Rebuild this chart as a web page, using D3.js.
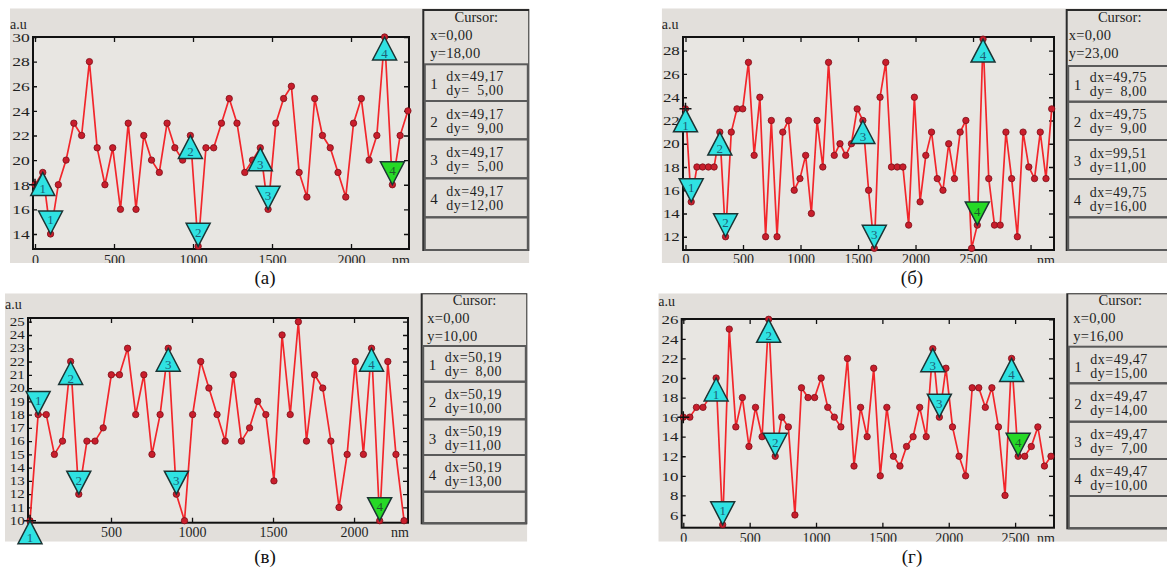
<!DOCTYPE html>
<html>
<head>
<meta charset="utf-8">
<script src="https://cdn.jsdelivr.net/npm/d3@7"></script>
<style>
  html, body { margin: 0; padding: 0; background: #ffffff; }
  svg { display: block; font-family: "Liberation Serif", "Times New Roman", serif; }
  text { white-space: pre; }
</style>
</head>
<body>
<svg id="chart" width="1167" height="567"></svg>
<script>
// ---- Profile samples (a.u), one value per sampling step (nm) ----
const stepA = 49.17;
const valuesA = [18,19,14,18,20,23,22,28,21,18,21,16,23,16,22,20,19,23,21,20,22,13,21,21,23,25,23,19,20,21,16,23,25,26,19,17,25,22,21,19,17,23,25,20,22,30,18,22,24];

const stepB = 49.75;
const valuesB = [23,15,18,18,18,18,21,12,21,23,23,27,19,24,12,22,12,21,22,16,17,19,14,22,18,27,19,20,19,20,23,22,16,11,24,27,18,18,18,13,24,15,19,21,17,16,20,17,21,22,11,13,29,17,13,13,21,17,12,21,18,17,21,17,23];

const stepC = 50.19;
const valuesC = [10,18,18,15,16,22,12,16,16,17,21,21,23,18,21,15,18,23,12,10,18,22,20,18,16,21,16,17,19,18,13,24,18,25,16,21,20,16,11,15,22,15,23,10,22,15,10];

const stepD = 49.47;
const valuesD = [16,16,17,17,18,20,5,25,15,18,13,17,14,26,12,16,15,6,19,18,18,20,17,16,15,22,11,17,14,21,10,17,12,11,13,14,17,14,23,16,21,15,12,10,19,19,17,19,15,8,22,12,12,13,15,11,12];

// ---- Cursor pairs: [cursor number, index of upper marker, index of lower marker] ----
const cursorsA = [[1,1,2],[2,20,21],[3,29,30],[4,45,46]];
const cursorsB = [[1,0,1],[2,6,7],[3,31,33],[4,52,51]];
const cursorsC = [[1,0,1],[2,5,6],[3,17,18],[4,42,43]];
const cursorsD = [[1,5,6],[2,13,14],[3,38,39],[4,50,51]];

// Cursor readout dx values (nm)
const dxA = [49.17,49.17,49.17,49.17];
const dxB = [49.75,49.75,99.51,49.75];
const dxC = [50.19,50.19,50.19,50.19];
const dxD = [49.47,49.47,49.47,49.47];

// Main cursor position [x, y]
const cursorPosA = [0,18];
const cursorPosB = [0,23];
const cursorPosC = [0,10];
const cursorPosD = [0,16];

// Axis tick values
const yTicksA = [14,16,18,20,22,24,26,28,30];
const yTicksB = [12,14,16,18,20,22,24,26,28];
const yTicksC = [10,11,12,13,14,15,16,17,18,19,20,21,22,23,24,25];
const yTicksD = [6,8,10,12,14,16,18,20,22,24,26];
const xTicksA = [0,500,1000,1500,2000];
const xTicksB = [0,500,1000,1500,2000,2500,3000];
const xTicksC = [0,500,1000,1500,2000];
const xTicksD = [0,500,1000,1500,2000,2500];
// x tick labels that are printed (others are ticks only)
const xLabelsA = [0,500,1000,1500,2000];
const xLabelsB = [0,500,1000,1500,2000,2500];
const xLabelsC = [500,1000,1500,2000];
const xLabelsD = [0,500,1000,1500,2000,2500];

const captions = ["(а)", "(б)", "(в)", "(г)"];

// ---- Layout for each panel ----
const layouts = [
  { key: "A", values: valuesA, step: stepA, cursors: cursorsA, dx: dxA, pos: cursorPosA, yTicks: yTicksA, xTicks: xTicksA, xLabels: xLabelsA,
    bg: {x: 10, y: 8.3, w: 519.3, h: 254.7},
    plot: {l: 33, t: 37, r: 409, b: 249},
    xDomain: [-12.7, 2367], yDomain: [12.78, 30],
    yFont: 13.5, xPad: 6, au: [10, 29],
    legend: {x: 423.3, y: 10, w: 106, h: 240, tx: 7, boxes: [64.3, 101, 139.3, 178.3, 217.3]},
    caption: [265, 284] },
  { key: "B", values: valuesB, step: stepB, cursors: cursorsB, dx: dxB, pos: cursorPosB, yTicks: yTicksB, xTicks: xTicksB, xLabels: xLabelsB,
    bg: {x: 661.7, y: 8.3, w: 510, h: 254.7},
    plot: {l: 683, t: 37, r: 1054, b: 250},
    xDomain: [-21.7, 3204], yDomain: [10.86, 29.18],
    yFont: 13, xPad: 4.5, au: [661.7, 29],
    legend: {x: 1066.7, y: 10, w: 106, h: 240, tx: 2, boxes: [66, 101.7, 140, 179, 217.3]},
    caption: [912, 284] },
  { key: "C", values: valuesC, step: stepC, cursors: cursorsC, dx: dxC, pos: cursorPosC, yTicks: yTicksC, xTicks: xTicksC, xLabels: xLabelsC,
    bg: {x: 5, y: 293.3, w: 522.3, h: 248.4},
    plot: {l: 28, t: 318, r: 408, b: 522.7},
    xDomain: [-12.3, 2333], yDomain: [9.85, 25.28],
    yFont: 11.5, xPad: 4, au: [5, 309],
    legend: {x: 421.7, y: 293.3, w: 105.6, h: 230, tx: 5.6, boxes: [346, 381.7, 419.3, 455, 491.7]},
    caption: [265, 563] },
  { key: "D", values: valuesD, step: stepD, cursors: cursorsD, dx: dxD, pos: cursorPosD, yTicks: yTicksD, xTicks: xTicksD, xLabels: xLabelsD,
    bg: {x: 658.3, y: 293.3, w: 510, h: 248.4},
    plot: {l: 681.7, t: 319, r: 1054, b: 527.7},
    xDomain: [-12, 2793], yDomain: [4.70, 26.03],
    yFont: 13, xPad: 5, au: [658.3, 306],
    legend: {x: 1067.3, y: 293.3, w: 106, h: 235, tx: 6, boxes: [346.7, 383.3, 421.7, 459, 496]},
    caption: [912, 563] }
];

const svg = d3.select("#chart");
const defs = svg.append("defs");
const num2 = v => d3.format(".2f")(v).replace(".", ",");
const padNum = v => (Math.abs(v) < 10 ? "\u2007" : "") + num2(v);

const COL = {
  panel: "#e2dfdb", plot: "#e8e6e2", frame: "#111111",
  line: "#f2262b", dotFill: "#c81e2c", dotStroke: "#7c0f18",
  tri: "#2fe2e2", triGreen: "#26d926", triStroke: "#1b3434", triText: "#1c5f77",
  text: "#1f1f1f", legendBorder: "#5a5a5a"
};

layouts.forEach((cfg, pi) => {
  const g = svg.append("g");
  const clipId = "clip" + cfg.key;
  defs.append("clipPath").attr("id", clipId)
    .append("rect").attr("x", cfg.bg.x).attr("y", cfg.bg.y).attr("width", cfg.bg.w).attr("height", cfg.bg.h);
  const pg = g.append("g").attr("clip-path", `url(#${clipId})`);

  // panel background
  pg.append("rect").attr("x", cfg.bg.x).attr("y", cfg.bg.y).attr("width", cfg.bg.w).attr("height", cfg.bg.h)
    .attr("fill", COL.panel);

  const P = cfg.plot;
  const x = d3.scaleLinear().domain(cfg.xDomain).range([P.l, P.r]);
  const y = d3.scaleLinear().domain(cfg.yDomain).range([P.b, P.t]);

  // plot area
  pg.append("rect").attr("x", P.l).attr("y", P.t).attr("width", P.r - P.l).attr("height", P.b - P.t)
    .attr("fill", COL.plot);

  // axes (ticks point inwards)
  const axB = pg.append("g").attr("transform", `translate(0,${P.b})`)
    .call(d3.axisBottom(x).tickValues(cfg.xTicks).tickSizeInner(-5).tickSizeOuter(0).tickPadding(cfg.xPad)
      .tickFormat(d => cfg.xLabels.includes(d) ? String(d) : ""));
  const axT = pg.append("g").attr("transform", `translate(0,${P.t})`)
    .call(d3.axisTop(x).tickValues(cfg.xTicks).tickSizeInner(-5).tickSizeOuter(0).tickFormat(""));
  const axL = pg.append("g").attr("transform", `translate(${P.l},0)`)
    .call(d3.axisLeft(y).tickValues(cfg.yTicks).tickSizeInner(-4).tickSizeOuter(0).tickPadding(2.5));
  const axR = pg.append("g").attr("transform", `translate(${P.r},0)`)
    .call(d3.axisRight(y).tickValues(cfg.yTicks).tickSizeInner(-5).tickSizeOuter(0).tickFormat(""));
  [axB, axT, axL, axR].forEach(a => {
    a.attr("font-family", null).attr("font-size", null);
    a.select(".domain").remove();
    a.selectAll(".tick line").attr("stroke", COL.frame).attr("stroke-width", 1.3);
  });
  axB.selectAll("text").attr("font-size", 14).attr("fill", COL.text);
  axL.selectAll("text").attr("font-size", cfg.yFont).attr("fill", COL.text)
    .attr("transform", "scale(1.3,1)");

  // frame
  pg.append("rect").attr("x", P.l).attr("y", P.t).attr("width", P.r - P.l).attr("height", P.b - P.t)
    .attr("fill", "none").attr("stroke", COL.frame).attr("stroke-width", 2);

  // unit labels
  pg.append("text").attr("x", cfg.au[0]).attr("y", cfg.au[1]).attr("font-size", 14).attr("fill", COL.text).text("a.u");
  pg.append("text").attr("x", P.r + 1).attr("y", P.b + cfg.xPad + 10).attr("text-anchor", "end")
    .attr("font-size", 14).attr("fill", COL.text).text("nm");

  // profile line and sample markers
  const pts = cfg.values.map((v, i) => ({xv: i * cfg.step, yv: v}));
  pg.append("path").datum(pts)
    .attr("d", d3.line().x(d => x(d.xv)).y(d => y(d.yv)))
    .attr("fill", "none").attr("stroke", COL.line).attr("stroke-width", 1.7).attr("stroke-linejoin", "round");
  pg.selectAll("circle.dot").data(pts).join("circle").attr("class", "dot")
    .attr("cx", d => x(d.xv)).attr("cy", d => y(d.yv)).attr("r", 3.2)
    .attr("fill", COL.dotFill).attr("stroke", COL.dotStroke).attr("stroke-width", 0.8);

  // main cursor cross
  const cx0 = x(cfg.pos[0]), cy0 = y(cfg.pos[1]);
  pg.append("path").attr("d", `M${cx0 - 6},${cy0}H${cx0 + 6}M${cx0},${cy0 - 6}V${cy0 + 6}`)
    .attr("stroke", "#111").attr("stroke-width", 1.5);

  // cursor markers: upward triangle hangs below its sample, downward one sits above
  const TW = 12, TH = 23;
  cfg.cursors.forEach(([n, iu, idn]) => {
    const ux = x(iu * cfg.step), uy = y(cfg.values[iu]);
    const dxp = x(idn * cfg.step), dyp = y(cfg.values[idn]);
    g.append("path").attr("d", `M${ux},${uy}L${ux + TW},${uy + TH}L${ux - TW},${uy + TH}Z`)
      .attr("fill", COL.tri).attr("stroke", COL.triStroke).attr("stroke-width", 1.5).attr("stroke-linejoin", "miter");
    g.append("text").attr("x", ux).attr("y", uy + 21).attr("text-anchor", "middle")
      .attr("font-size", 13).attr("fill", COL.triText).text(n);
    const green = n === 4;
    g.append("path").attr("d", `M${dxp},${dyp}L${dxp + TW},${dyp - TH}L${dxp - TW},${dyp - TH}Z`)
      .attr("fill", green ? COL.triGreen : COL.tri).attr("stroke", COL.triStroke).attr("stroke-width", 1.5);
    g.append("text").attr("x", dxp).attr("y", dyp - 9.5).attr("text-anchor", "middle")
      .attr("font-size", 13).attr("fill", green ? "#1d5a2a" : COL.triText).text(n);
  });

  // cursor readout panel
  const L = cfg.legend;
  const lg = pg.append("g");
  lg.append("rect").attr("x", L.x).attr("y", L.y).attr("width", L.w).attr("height", L.h)
    .attr("fill", COL.panel).attr("stroke", "#2b2b2b").attr("stroke-width", 2);
  const fs = 14;
  lg.append("text").attr("x", L.x + L.w / 2).attr("y", L.y + 12).attr("text-anchor", "middle")
    .attr("font-size", fs + 0.5).attr("fill", COL.text).text("Cursor:");
  lg.append("text").attr("x", L.x + L.tx).attr("y", L.y + 30).attr("font-size", fs + 0.5)
    .attr("letter-spacing", 0.3).attr("fill", COL.text).text("x=" + num2(cfg.pos[0]));
  lg.append("text").attr("x", L.x + L.tx).attr("y", L.y + 48).attr("font-size", fs + 0.5)
    .attr("letter-spacing", 0.3).attr("fill", COL.text).text("y=" + num2(cfg.pos[1]));
  L.boxes.forEach((top, bi) => {
    const bottom = bi + 1 < L.boxes.length ? L.boxes[bi + 1] : L.y + L.h;
    lg.append("rect").attr("x", L.x + 1.5).attr("y", top).attr("width", L.w - 3).attr("height", bottom - top)
      .attr("fill", "none").attr("stroke", COL.legendBorder).attr("stroke-width", 2);
    if (bi < cfg.cursors.length) {
      const [n, iu, idn] = cfg.cursors[bi];
      const mid = (top + bottom) / 2;
      const dyVal = Math.abs(cfg.values[iu] - cfg.values[idn]);
      lg.append("text").attr("x", L.x + 7).attr("y", mid + 6.5)
        .attr("font-size", fs + 1).attr("fill", COL.text).text(n);
      lg.append("text").attr("x", L.x + 23).attr("y", mid - 1.5)
        .attr("font-size", fs).attr("letter-spacing", 0.5).attr("fill", COL.text).text("dx=" + num2(cfg.dx[bi]));
      lg.append("text").attr("x", L.x + 23).attr("y", mid + 12.5)
        .attr("font-size", fs).attr("letter-spacing", 0.5).attr("fill", COL.text).text("dy=" + padNum(dyVal));
    }
  });

  // panel caption
  svg.append("text").attr("x", cfg.caption[0]).attr("y", cfg.caption[1]).attr("text-anchor", "middle")
    .attr("font-size", 19).attr("fill", "#111").text(captions[pi]);
});
</script>
</body>
</html>
